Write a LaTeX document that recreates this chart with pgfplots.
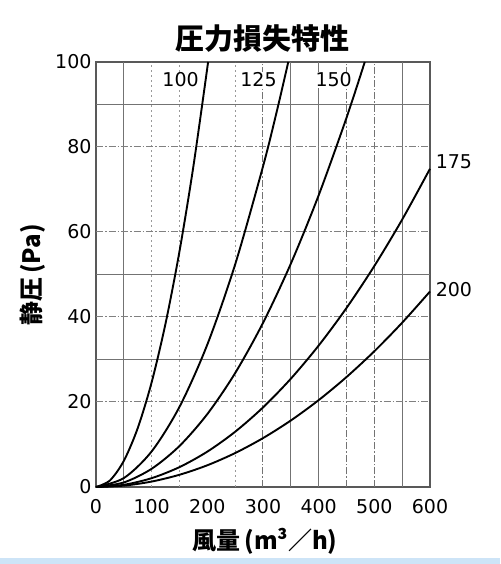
\documentclass[border=0pt]{standalone}
\usepackage{fontspec}
\usepackage{pgfplots}
\pgfplotsset{compat=1.18}
\setmainfont{DejaVu Sans}
\newfontfamily\jp{Noto Sans CJK JP}
\definecolor{band}{RGB}{205,228,247}

\begin{document}
\begin{tikzpicture}
\useasboundingbox (-96pt,-77pt) rectangle (404pt,487pt);
\fill[band] (-96pt,-77pt) rectangle (404pt,-71pt);
\begin{axis}[
  at={(0pt,0pt)}, anchor=south west,
  scale only axis, width=334pt, height=425pt,
  xmin=0, xmax=600, ymin=0, ymax=100,
  xtick={0,100,...,600}, ytick={0,20,...,100},
  major tick length=0pt,
  tick label style={font=\fontsize{19}{19}\selectfont},
  /pgf/number format/assume math mode=true,
  xticklabel style={yshift=-9pt},
  yticklabel style={xshift=-1pt},
  axis line style={line width=2pt, black!65},
  clip=false,
]
% grid
\pgfplotsinvokeforeach{50,350,400,550}{
  \draw[black!55, line width=1.3pt] (axis cs:#1,0) -- (axis cs:#1,100);}
\pgfplotsinvokeforeach{300,450,500}{
  \draw[black!55, line width=1pt, dash pattern=on 7pt off 2pt on 1.5pt off 2pt] (axis cs:#1,0) -- (axis cs:#1,100);}
\pgfplotsinvokeforeach{100,150,250}{
  \draw[black!40, line width=1pt, dash pattern=on 2pt off 3pt] (axis cs:#1,0) -- (axis cs:#1,100);}
\pgfplotsinvokeforeach{30,50,90}{
  \draw[black!55, line width=1.3pt] (axis cs:0,#1) -- (axis cs:600,#1);}
\pgfplotsinvokeforeach{20,40,60,80}{
  \draw[black!50, line width=1pt, dash pattern=on 7pt off 2pt on 1.5pt off 2pt] (axis cs:0,#1) -- (axis cs:600,#1);}

% 100
\addplot[smooth, line width=1.9pt, black] coordinates {
  (0,0) (25,1.54) (50,6.16) (75,13.87) (100,24.65) (125,38.52) (150,55.46) (175,75.49) (201.4,100)};
% 125
\addplot[smooth, line width=1.9pt, black] coordinates {
  (0,0) (50,2.10) (100,8.38) (150,18.86) (200,33.52) (250,52.38) (300,75.42) (325,88.5) (345.4,100)};
% 150
\addplot[smooth, line width=1.9pt, black] coordinates {
  (0,0) (50,1.07) (100,4.29) (150,9.65) (200,17.16) (250,26.81) (300,38.61) (350,52.55) (400,68.64) (450,86.87) (482.8,100)};
% 175
\addplot[smooth, line width=1.9pt, black] coordinates {
  (0,0) (50,0.52) (100,2.08) (150,4.68) (200,8.32) (250,13.0) (300,18.72) (350,25.48) (400,33.28) (450,42.12) (500,52.0) (550,62.92) (600,74.88)};
% 200
\addplot[smooth, line width=1.9pt, black] coordinates {
  (0,0) (50,0.32) (100,1.28) (150,2.88) (200,5.11) (250,7.99) (300,11.5) (350,15.65) (400,20.44) (450,25.87) (500,31.94) (550,38.66) (600,46)};

\begin{scope}[every node/.style={font=\fontsize{19}{19}\selectfont, fill=white, inner sep=1pt}]
\node at (axis cs:152,95.8) {100};
\node at (axis cs:292,95.8) {125};
\node at (axis cs:427,95.8) {150};
\node[fill=none] at (axis cs:643,76.5) {175};
\node[fill=none] at (axis cs:643,46.4) {200};
\end{scope}
\end{axis}
\node[font=\jp\bfseries\fontsize{29}{29}\selectfont] at (166pt,448pt) {圧力損失特性};
\node[rotate=90, font=\jp\bfseries\fontsize{24}{24}\selectfont] at (-63pt,212pt) {静圧\,(Pa)};
\node[font=\jp\bfseries\fontsize{24}{24}\selectfont] at (169pt,-54pt) {風量\,(m³／h)};
\end{tikzpicture}
\end{document}
